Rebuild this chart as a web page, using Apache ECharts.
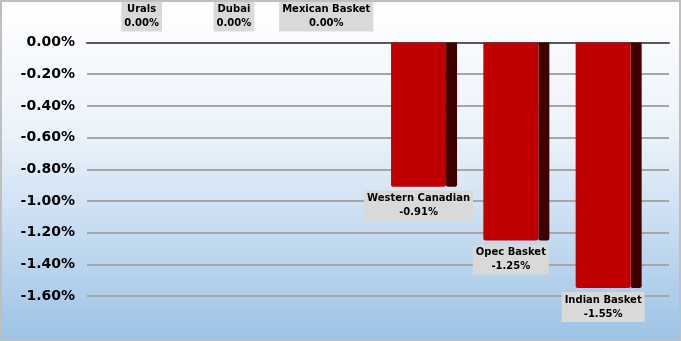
<!DOCTYPE html>
<html><head><meta charset="utf-8">
<script src="https://cdn.jsdelivr.net/npm/echarts@6/dist/echarts.min.js"></script>
<style>html,body{margin:0;padding:0;}#c{width:681px;height:341px;box-sizing:border-box;border:2px solid #bfbfbf;background:linear-gradient(to bottom,#ffffff 0%,#eaf2fa 40%,#9dc3e6 100%);}</style>
</head><body><div id="c"></div>
<script>
const categories = ['Urals','Dubai','Mexican Basket','Western Canadian','Opec Basket','Indian Basket'];
const values = [0, 0, 0, -0.91, -1.25, -1.55];
const yMin = -1.6, yMax = 0, yStep = 0.2;

const chart = echarts.init(document.getElementById('c'), null, {renderer:'canvas'});
const FONT = 'DejaVu Sans';
chart.setOption({
  animation:false,
  grid:[
    {left:85, right:10, top:40.5, height:253.5},
    {left:93.5, width:553.8, top:40.5, height:253.5}
  ],
  xAxis:[
    {type:'category', gridIndex:0, data:categories, position:'top', axisLine:{show:true, lineStyle:{color:'#595959', width:2}}, axisTick:{show:false}, axisLabel:{show:false}},
    {type:'category', gridIndex:1, data:categories, show:false}
  ],
  yAxis:[
    {type:'value', gridIndex:0, min:yMin, max:yMax, interval:yStep, axisLine:{show:false}, axisTick:{show:false},
     axisLabel:{margin:12, color:'#000', fontFamily:FONT, fontWeight:'bold', fontSize:14, formatter:v=>v.toFixed(2)+'%'},
     splitLine:{lineStyle:{color:'#a6a6a6', width:2}}},
    {type:'value', gridIndex:1, min:yMin, max:yMax, show:false}
  ],
  series:[{
    type:'custom', xAxisIndex:1, yAxisIndex:1,
    data: values.map((v,i)=>[i,v]),
    renderItem:function(params, api){
      const i = api.value(0), v = api.value(1);
      const p0 = api.coord([i, 0]), p1 = api.coord([i, v]);
      const fw = 55, sw = 11;
      const h = p1[1]-p0[1];
      const children = [];
      if (h > 0) {
        children.push({type:'rect', shape:{x:p0[0]-fw/2+fw, y:p0[1], width:sw, height:h, r:[0,0,2,2]}, style:{fill:'#3f0000'}});
        children.push({type:'rect', shape:{x:p0[0]-fw/2, y:p0[1], width:fw, height:h, r:[0,0,2,2]}, style:{fill:'#c00000'}});
      }
      const txt = categories[i] + '\n' + v.toFixed(2) + '%';
      const below = v < 0;
      children.push({type:'text', style:{
        text:txt, x:p0[0], y: below ? p1[1]+4 : p0[1]-11,
        align:'center', verticalAlign: below ? 'top':'bottom',
        fill:'#000', font:'bold 10px "'+FONT+'"', lineHeight:14,
        backgroundColor:'#d9d9d9', padding:[1,3,1,3]
      }});
      return {type:'group', children};
    }
  }]
});
</script></body></html>
